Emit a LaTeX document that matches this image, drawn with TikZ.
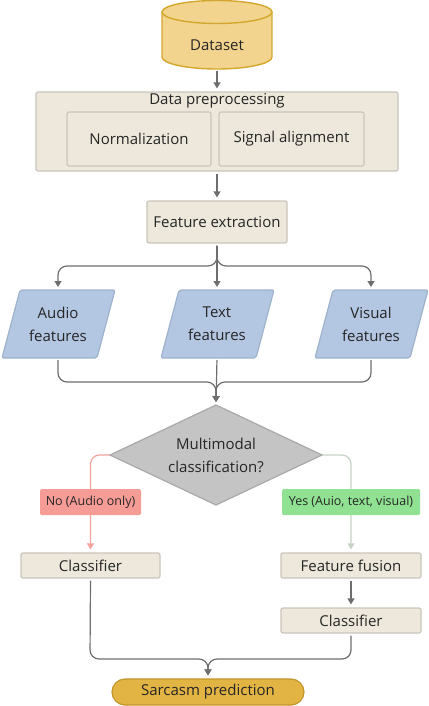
\documentclass[tikz,border=0pt]{standalone}
\usepackage{fontspec}
\setmainfont{Open Sans}
\usetikzlibrary{arrows.meta}
\definecolor{beige}{HTML}{EDE8DB}
\definecolor{beigeb}{HTML}{C9C5BC}
\definecolor{blueF}{HTML}{B3C7E2}
\definecolor{blueB}{HTML}{9FB2CC}
\definecolor{grayF}{HTML}{C4C4C4}
\definecolor{grayB}{HTML}{A9A9A9}
\definecolor{dsF}{HTML}{F2D48E}
\definecolor{dsB}{HTML}{D4A72C}
\definecolor{spF}{HTML}{E2B443}
\definecolor{spB}{HTML}{C4962C}
\definecolor{lineC}{HTML}{6E6E6E}
\definecolor{noF}{HTML}{F69C96}
\definecolor{noL}{HTML}{F4A39D}
\definecolor{yesF}{HTML}{90E292}
\definecolor{yesL}{HTML}{C6D3C6}
\definecolor{txt}{HTML}{262626}
\tikzset{
  box/.style={draw=beigeb, fill=beige, line width=1.2pt, rounded corners=2pt, text=txt, font=\fontsize{15}{17}\selectfont},
  para/.style={draw=blueB, fill=blueF, line width=1.2pt, rounded corners=2pt},
  lbl/.style={text=txt, font=\fontsize{15}{23}\selectfont, align=center},
  conn/.style={draw=lineC, line width=1.2pt, rounded corners=9pt, shorten <=2pt, shorten >=3pt},
  arr/.style={conn, -{Triangle[width=7pt,length=6pt]}},
  tag/.style={rounded corners=1.5pt, text=txt, font=\fontsize{12.5}{14}\selectfont, minimum height=26pt, inner sep=1pt},
}
\begin{document}
\begin{tikzpicture}[x=1pt,y=-1pt]
\useasboundingbox (0,0) rectangle (428,706);
% Dataset cylinder
\fill[dsF] (162,12) rectangle (272,57);
\fill[dsF] (217,57) ellipse[x radius=55pt, y radius=12pt];
\draw[dsB, line width=1.4pt] (162,12) -- (162,57) arc[start angle=180, end angle=360, x radius=55pt, y radius=12pt] -- (272,12);
\draw[dsB, line width=1.4pt, fill=dsF] (217,12) ellipse[x radius=55pt, y radius=11.5pt];
\node[lbl] (ds) at (217,45) {Dataset};
\coordinate (dsb) at (217,69);
% Preprocessing
\node[box, minimum width=362pt, minimum height=79pt] (prep) at (217,131.5) {};
\node[lbl] (preptitle) at (217,101) {Data preprocessing};
\node[box, minimum width=144pt, minimum height=54pt] (norm) at (139,139) {Normalization};
\node[box, minimum width=145pt, minimum height=54pt] (sig) at (291.5,139) {Signal alignment};
% Feature extraction
\node[box, minimum width=140pt, minimum height=42pt] (feat) at (217,222) {Feature extraction};
% Parallelograms
\foreach \cx/\nm/\a/\b in {58/audio/Audio/features, 217/text/Text/features, 371/visual/Visual/features}{
  \draw[para] (\cx-56,358) -- (\cx+39,358) -- (\cx+57,290) -- (\cx-38,290) -- cycle;
  \node[lbl] (\nm) at (\cx,324) {\a\\\b};
  \coordinate (\nm T) at (\cx,290);
  \coordinate (\nm B) at (\cx,358);
}
% Diamond
\draw[fill=grayF, draw=grayB, line width=1.2pt] (216,405) -- (322,455) -- (216,505) -- (110,455) -- cycle;
\node[lbl] (dec) at (216,455) {Multimodal\\classification?};
\coordinate (decT) at (216,405);
\coordinate (decL) at (110,455);
\coordinate (decR) at (322,455);
% Classifiers
\node[box, minimum width=139pt, minimum height=25pt] (clsL) at (90.5,565.5) {Classifier};
\node[box, minimum width=140pt, minimum height=25pt] (fus) at (351,565.5) {Feature fusion};
\node[box, minimum width=140pt, minimum height=25pt] (clsR) at (351,620.5) {Classifier};
% Sarcasm
\node[draw=spB, fill=spF, line width=1.2pt, rounded corners=13pt, minimum width=192pt, minimum height=26pt, text=txt, font=\fontsize{15}{17}\selectfont] (sp) at (208,692) {Sarcasm prediction};
% Connectors
\draw[arr] (dsb) -- (prep.north);
\draw[arr] (prep.south) -- (feat.north);
\draw[arr] (feat.south) -- (textT);
\draw[arr] (feat.south) -- (217,266) -| (audioT);
\draw[arr] (feat.south) -- (217,266) -| (visualT);
\draw[arr] (audioB) -- (58,382) -| (decT);
\draw[arr] (visualB) -- (371,382) -| (decT);
\draw[arr] (textB) -- (decT);
\draw[conn, noL, shorten <=0pt, -{Triangle[width=7pt,length=6pt]}] (decL) -| (clsL.north);
\draw[conn, yesL, shorten <=0pt, -{Triangle[width=7pt,length=6pt]}] (decR) -| (fus.north);
\node[tag, fill=noF, minimum width=101pt] (no) at (90.5,502) {No (Audio only)};
\node[tag, fill=yesF, minimum width=138pt] (yes) at (351,502) {Yes (Auio, text, visual)};
\draw[arr] (fus.south) -- (clsR.north);
\draw[arr] (clsL.south) -- (90,659) -| (sp.north);
\draw[arr] (clsR.south) -- (351,659) -| (sp.north);
\end{tikzpicture}
\end{document}
